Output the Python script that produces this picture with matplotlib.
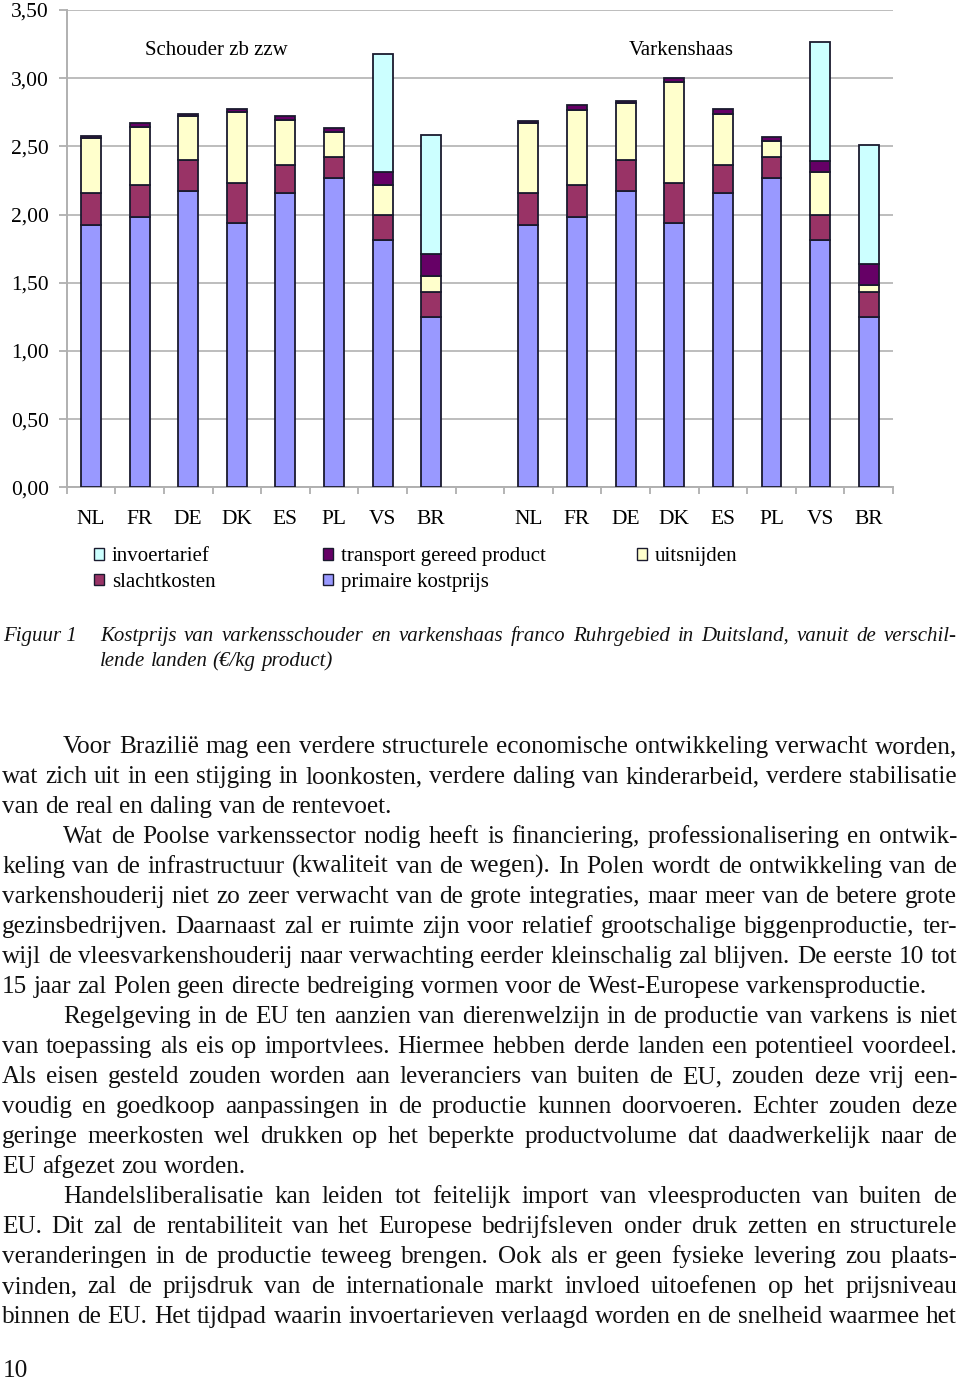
import matplotlib
matplotlib.use("Agg")
import matplotlib.pyplot as plt
from matplotlib.patches import Patch
from matplotlib.ticker import FixedLocator, FuncFormatter
import numpy as np

# ---------------- data ----------------
countries = ["NL", "FR", "DE", "DK", "ES", "PL", "VS", "BR"]
groups = ["Schouder zb zzw", "Varkenshaas"]

# Schouder zb zzw
schouder_primaire = [1.92, 1.98, 2.175, 1.935, 2.16, 2.27, 1.81, 1.25]
schouder_slacht = [0.24, 0.24, 0.225, 0.295, 0.205, 0.155, 0.19, 0.18]
schouder_uitsnijden = [0.40, 0.42, 0.32, 0.52, 0.325, 0.18, 0.22, 0.12]
schouder_transport = [0.015, 0.03, 0.015, 0.025, 0.035, 0.03, 0.09, 0.16]
schouder_invoer = [0.0, 0.0, 0.0, 0.0, 0.0, 0.0, 0.87, 0.87]

# Varkenshaas
haas_primaire = [1.92, 1.98, 2.175, 1.935, 2.16, 2.27, 1.81, 1.25]
haas_slacht = [0.24, 0.24, 0.225, 0.295, 0.205, 0.15, 0.19, 0.18]
haas_uitsnijden = [0.515, 0.55, 0.42, 0.74, 0.375, 0.12, 0.31, 0.05]
haas_transport = [0.012, 0.03, 0.015, 0.03, 0.035, 0.03, 0.085, 0.16]
haas_invoer = [0.0, 0.0, 0.0, 0.0, 0.0, 0.0, 0.87, 0.87]

series_names = ["primaire kostprijs", "slachtkosten", "uitsnijden",
                "transport gereed product", "invoertarief"]
series_colors = ["#9999FF", "#993366", "#FFFFCC", "#660066", "#CCFFFF"]

y_ticks = [0.0, 0.5, 1.0, 1.5, 2.0, 2.5, 3.0, 3.5]

caption_label = "Figuur 1"
caption_lines = [
    "Kostprijs van varkensschouder en varkenshaas franco Ruhrgebied in Duitsland, vanuit de verschil-",
    "lende landen (€/kg product)",
]

# (text, indent, justified)
body_lines = [
    ("Voor Brazilië mag een verdere structurele economische ontwikkeling verwacht worden,", True, True),
    ("wat zich uit in een stijging in loonkosten, verdere daling van kinderarbeid, verdere stabilisatie", False, True),
    ("van de real en daling van de rentevoet.", False, False),
    ("Wat de Poolse varkenssector nodig heeft is financiering, professionalisering en ontwik-", True, True),
    ("keling van de infrastructuur (kwaliteit van de wegen). In Polen wordt de ontwikkeling van de", False, True),
    ("varkenshouderij niet zo zeer verwacht van de grote integraties, maar meer van de betere grote", False, True),
    ("gezinsbedrijven. Daarnaast zal er ruimte zijn voor relatief grootschalige biggenproductie, ter-", False, True),
    ("wijl de vleesvarkenshouderij naar verwachting eerder kleinschalig zal blijven. De eerste 10 tot", False, True),
    ("15 jaar zal Polen geen directe bedreiging vormen voor de West-Europese varkensproductie.", False, False),
    ("Regelgeving in de EU ten aanzien van dierenwelzijn in de productie van varkens is niet", True, True),
    ("van toepassing als eis op importvlees. Hiermee hebben derde landen een potentieel voordeel.", False, True),
    ("Als eisen gesteld zouden worden aan leveranciers van buiten de EU, zouden deze vrij een-", False, True),
    ("voudig en goedkoop aanpassingen in de productie kunnen doorvoeren. Echter zouden deze", False, True),
    ("geringe meerkosten wel drukken op het beperkte productvolume dat daadwerkelijk naar de", False, True),
    ("EU afgezet zou worden.", False, False),
    ("Handelsliberalisatie kan leiden tot feitelijk import van vleesproducten van buiten de", True, True),
    ("EU. Dit zal de rentabiliteit van het Europese bedrijfsleven onder druk zetten en structurele", False, True),
    ("veranderingen in de productie teweeg brengen. Ook als er geen fysieke levering zou plaats-", False, True),
    ("vinden, zal de prijsdruk van de internationale markt invloed uitoefenen op het prijsniveau", False, True),
    ("binnen de EU. Het tijdpad waarin invoertarieven verlaagd worden en de snelheid waarmee het", False, True),
]
page_number = "10"

# ---------------- figure ----------------
W, H = 960, 1382
plt.rcParams["font.family"] = ["Liberation Serif", "DejaVu Serif"]
fig = plt.figure(figsize=(W / 100, H / 100), dpi=100)

def fx(px):
    return px / W

def fy(py):
    return 1 - py / H

ax_l, ax_r, ax_t, ax_b = 66.7, 893.0, 10.0, 487.3
ax = fig.add_axes([fx(ax_l), fy(ax_b), (ax_r - ax_l) / W, (ax_b - ax_t) / H])

n = len(countries)
x_left = np.arange(n)
x_right = np.arange(n) + n + 1
xs = np.concatenate([x_left, x_right])

prim = np.array(schouder_primaire + haas_primaire)
sl = np.array(schouder_slacht + haas_slacht)
uit = np.array(schouder_uitsnijden + haas_uitsnijden)
tr = np.array(schouder_transport + haas_transport)
inv = np.array(schouder_invoer + haas_invoer)
stack = [prim, sl, uit, tr, inv]

bw = 0.41
bottom = np.zeros_like(prim)
for vals, col in zip(stack, series_colors):
    mask = vals > 0
    ax.bar(xs[mask], vals[mask], bw, bottom=bottom[mask], color=col,
           edgecolor="#1a1a2e", linewidth=1.3, zorder=3)
    bottom = bottom + vals

ax.set_xlim(-0.5, 2 * n + 0.5)
ax.set_ylim(0, 3.5)
ax.set_yticks(y_ticks)
ax.yaxis.set_major_formatter(FuncFormatter(lambda v, p: f"{v:.2f}".replace(".", ",")))
ax.grid(axis="y", color="#BDBDBD", linewidth=1.4, zorder=0)
ax.set_axisbelow(True)

ax.set_xticks(xs)
ax.set_xticklabels(countries + countries)
ax.xaxis.set_minor_locator(FixedLocator(np.arange(-0.5, 2 * n + 1, 1.0)))
ax.tick_params(axis="x", which="major", length=0, pad=16, labelsize=15.5)
ax.tick_params(axis="x", which="minor", length=5, color="#A8A8A8", width=1.2, direction="out")
ax.tick_params(axis="y", which="major", length=6, color="#A8A8A8", width=1.2, pad=7, labelsize=15.5)

for s in ["top", "right"]:
    ax.spines[s].set_visible(False)
for s in ["left", "bottom"]:
    ax.spines[s].set_color("#B0B0B0")
    ax.spines[s].set_linewidth(1.4)

ax.text(2.57, 3.205, groups[0], ha="center", va="center", fontsize=15)
ax.text(12.14, 3.205, groups[1], ha="center", va="center", fontsize=15)

# ---------------- legend ----------------
def handle(i):
    return Patch(facecolor=series_colors[i], edgecolor="#1a1a2e", linewidth=1.0)

leg_kw = dict(frameon=False, fontsize=15, handlelength=0.5, handleheight=0.5,
              handletextpad=0.35, borderpad=0, borderaxespad=0, labelspacing=0.33)
fig.legend([handle(4), handle(1)], [series_names[4], series_names[1]],
           loc="center left", bbox_to_anchor=(fx(94), fy(569.5)), **leg_kw)
fig.legend([handle(3), handle(0)], [series_names[3], series_names[0]],
           loc="center left", bbox_to_anchor=(fx(323), fy(569.5)), **leg_kw)
fig.legend([handle(2)], [series_names[2]],
           loc="center left", bbox_to_anchor=(fx(637), fy(557)), **leg_kw)

# ---------------- text helpers ----------------
renderer = fig.canvas.get_renderer()

def text_width(s, size, style):
    t = fig.text(0, 0, s, fontsize=size, style=style)
    w = t.get_window_extent(renderer=renderer).width
    t.remove()
    return w

def draw_line(line, x0, x1, y_base, size, justify, style="normal"):
    words = line.split()
    widths = [text_width(w, size, style) for w in words]
    space = text_width("x x", size, style) - text_width("xx", size, style)
    if justify and len(words) > 1:
        gap = (x1 - x0 - sum(widths)) / (len(words) - 1)
    else:
        gap = space
    x = x0
    for w, wd in zip(words, widths):
        fig.text(fx(x), fy(y_base), w, fontsize=size, style=style,
                 ha="left", va="baseline", color="#111111")
        x += wd + gap

# caption
cap_size = 15
fig.text(fx(3), fy(641), caption_label, fontsize=cap_size, style="italic",
         ha="left", va="baseline", color="#111111")
draw_line(caption_lines[0], 100, 957, 641, cap_size, True, "italic")
draw_line(caption_lines[1], 100, 957, 666, cap_size, False, "italic")

# body
body_size = 18.2
for i, (line, indent, just) in enumerate(body_lines):
    x0 = 63 if indent else 2
    draw_line(line, x0, 957, 753 + 30 * i, body_size, just)

fig.text(fx(3), fy(1377), page_number, fontsize=body_size, ha="left",
         va="baseline", color="#111111")

fig.savefig("out.png", dpi=100)
